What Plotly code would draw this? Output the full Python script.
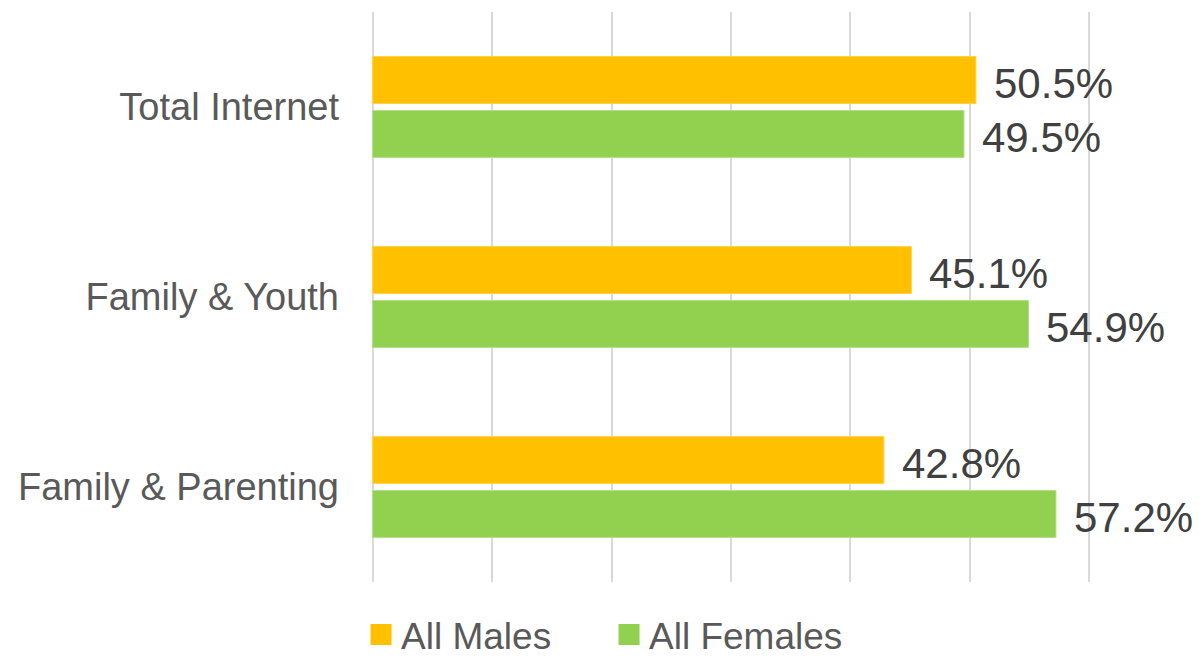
import plotly.graph_objects as go

categories = ["Total Internet", "Family & Youth", "Family & Parenting"]
males = [50.5, 45.1, 42.8]
females = [49.5, 54.9, 57.2]
series_names = ["All Males", "All Females"]
colors = ["#FFC000", "#92D050"]
edge_colors = ["#FFD24D", "#B4E08A"]
x_ticks = [0, 10, 20, 30, 40, 50, 60]

fig = go.Figure()
for name, vals, c, ec in zip(series_names, [males, females], colors, edge_colors):
    fig.add_trace(go.Bar(
        y=categories, x=vals, name=name, orientation="h",
        marker=dict(color=c, line=dict(color=ec, width=1)),
        showlegend=False, hoverinfo="x+y",
    ))
for name, c in zip(series_names, colors):
    fig.add_trace(go.Scatter(
        x=[None], y=[None], mode="markers", name=name,
        marker=dict(symbol="square", size=16, color=c, line=dict(color=c, width=6)),
    ))

shifts = [24, -30]
for vals, ys in zip([males, females], shifts):
    for cat, v in zip(categories, vals):
        fig.add_annotation(
            x=v, y=cat, text=f"{v:.1f}%", showarrow=False,
            xanchor="left", yanchor="middle", xshift=16, yshift=ys,
            font=dict(family="Liberation Sans, Arial, sans-serif", size=42, color="#404040"),
        )

fig.update_layout(
    width=1199, height=658,
    margin=dict(l=369, r=106, t=12, b=76, autoexpand=False),
    paper_bgcolor="white", plot_bgcolor="white",
    barmode="group", bargap=0.432, bargroupgap=0.13,
    font=dict(family="Liberation Sans, Arial, sans-serif", size=38, color="#595959"),
    xaxis=dict(
        range=[-0.3, 60.3], tickvals=x_ticks, showticklabels=False,
        showgrid=True, gridcolor="#D9D9D9", gridwidth=2,
        zeroline=False, showline=False, fixedrange=True,
    ),
    yaxis=dict(
        autorange="reversed", showgrid=False, zeroline=False, showline=False,
        ticks="", ticklabelstandoff=29,
        tickfont=dict(size=38, color="#595959"),
    ),
    legend=dict(
        orientation="h", x=-0.011, xanchor="left", y=-0.093, yanchor="middle",
        font=dict(size=37, color="#595959"), entrywidth=203, itemsizing="trace",
        bgcolor="rgba(0,0,0,0)",
    ),
)

fig.write_html("out.html")
